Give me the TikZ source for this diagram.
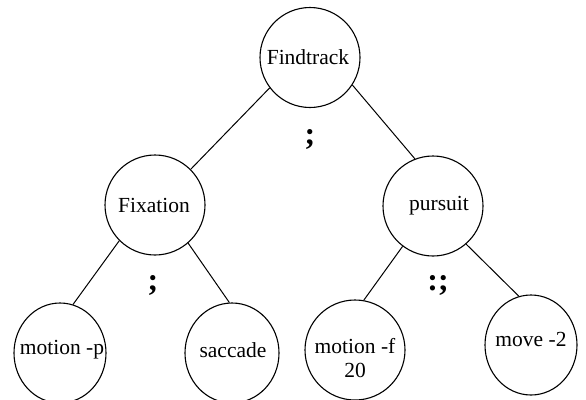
\documentclass[tikz,border=0pt]{standalone}
\usepackage{fontspec}
\setmainfont{Liberation Serif}
\usetikzlibrary{shapes.geometric}
\tikzset{
  ring/.style={draw, line width=1.1pt, circle, minimum size=100pt, inner sep=0pt},
  leaf/.style={draw, line width=1.1pt, ellipse, inner sep=0pt},
  txt/.style={inner sep=0pt, align=center, font=\fontsize{21.5}{24}\selectfont},
  sep/.style={inner sep=0pt, font=\fontsize{32}{32}\selectfont\bfseries},
  edge/.style={line width=1pt}
}
\begin{document}
\begin{tikzpicture}[x=1pt,y=-1pt]
\useasboundingbox (0,0) rectangle (586,399);
\clip (0,0) rectangle (586,399);
\fill[white] (0,0) rectangle (586,399);
% upper nodes
\node[ring] (ft) at (310,57.5) {};
\node[ring] (fx) at (155,205) {};
\node[ring] (pu) at (433,206) {};
% leaves
\node[leaf, minimum width=92pt, minimum height=100pt] (mp) at (60,353) {};
\node[leaf, minimum width=94pt, minimum height=100pt] (sa) at (232,353) {};
\node[leaf, minimum width=100pt, minimum height=100pt] (mf) at (355,350) {};
\node[leaf, minimum width=92pt, minimum height=100pt] (mv) at (531,345) {};
% texts
\node[txt] (tft) at (308,57) {Findtrack};
\node[txt] (tfx) at (154,205) {Fixation};
\node[txt] (tpu) at (439,206) {pursuit};
\node[txt] (tmp) at (62,350) {motion -p};
\node[txt] (tsa) at (233,350) {saccade};
\node[txt] (tmf) at (355,358) {motion -f\\20};
\node[txt] (tmv) at (531,339) {move -2};
% separators
\node[sep] (s1) at (310,139) {;};
\node[sep] (s2) at (153,285) {;};
\node[sep] (s3) at (438,285) {:;};
% connectors
\draw[edge] (ft.-143) -- (fx.45);
\draw[edge] (ft.-33) -- (pu.111);
\draw[edge] (fx.-135) -- (mp.75);
\draw[edge] (fx.-49) -- (sa.93);
\draw[edge] (pu.-127) -- (mf.80);
\draw[edge] (pu.-49) -- (mv.104);
\end{tikzpicture}
\end{document}
